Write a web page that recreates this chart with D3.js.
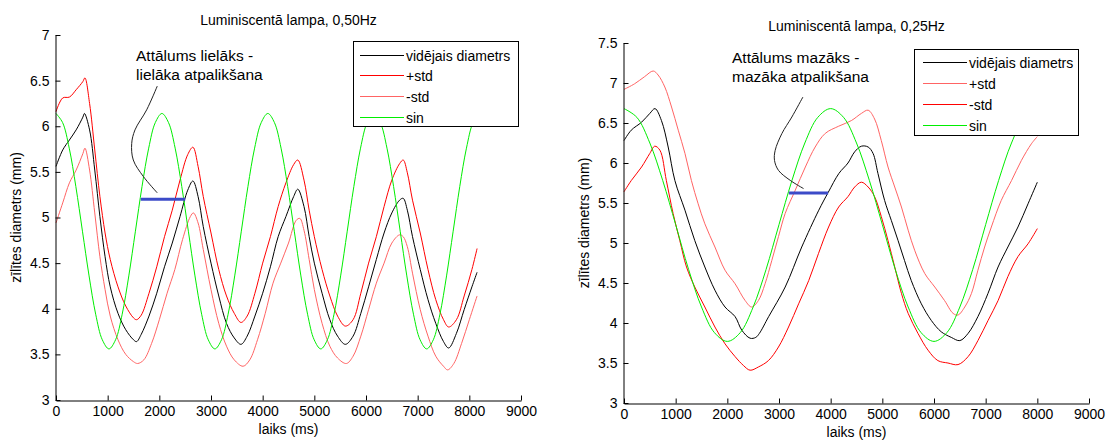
<!DOCTYPE html>
<html><head><meta charset="utf-8">
<script src="https://cdn.jsdelivr.net/npm/d3@7"></script>
<style>
body{margin:0;background:#fff}
svg{display:block}
text{font-family:"Liberation Sans",Arial,Helvetica,sans-serif;fill:#000}
</style>
</head><body>
<svg id="c" width="1106" height="441"></svg>
<script>
// ---------- shared ticks ----------
const xTicks = [0,1000,2000,3000,4000,5000,6000,7000,8000,9000];
const leftYTicks = [3,3.5,4,4.5,5,5.5,6,6.5,7];
const rightYTicks = [3,3.5,4,4.5,5,5.5,6,6.5,7,7.5];
const legendLabels = ["vidējais diametrs","+std","-std","sin"];

// ---------- left chart (0,50Hz) ----------
const leftMean = [[0,5.56],[130,5.74],[260,5.85],[390,5.96],[520,6.10],[550,6.14],[650,5.96],[750,5.52],[850,5.01],[950,4.57],[1050,4.24],[1200,3.95],[1350,3.77],[1500,3.66],[1560,3.64],[1650,3.72],[1800,3.92],[1950,4.17],[2100,4.46],[2250,4.72],[2400,5.01],[2550,5.30],[2650,5.40],[2750,5.23],[2850,4.90],[3000,4.50],[3150,4.14],[3300,3.84],[3450,3.68],[3580,3.61],[3700,3.70],[3850,3.92],[4000,4.17],[4150,4.46],[4300,4.79],[4450,5.01],[4600,5.23],[4680,5.31],[4800,5.12],[4900,4.79],[5000,4.50],[5150,4.17],[5300,3.88],[5450,3.70],[5600,3.61],[5750,3.70],[5900,3.95],[6050,4.24],[6200,4.54],[6350,4.83],[6500,5.05],[6650,5.19],[6720,5.21],[6800,5.08],[6900,4.79],[7050,4.43],[7200,4.10],[7350,3.84],[7500,3.64],[7600,3.57],[7750,3.73],[7900,3.99],[8050,4.24],[8150,4.40]];
const leftPlus = [[0,6.16],[130,6.31],[260,6.32],[390,6.40],[520,6.49],[560,6.53],[650,6.25],[750,5.74],[850,5.23],[950,4.83],[1050,4.54],[1200,4.24],[1350,4.03],[1500,3.90],[1560,3.88],[1650,3.93],[1800,4.17],[1950,4.46],[2100,4.79],[2250,5.08],[2400,5.41],[2550,5.69],[2650,5.77],[2750,5.56],[2850,5.23],[3000,4.83],[3150,4.43],[3300,4.14],[3450,3.95],[3580,3.85],[3700,3.92],[3850,4.17],[4000,4.50],[4150,4.79],[4300,5.12],[4450,5.38],[4600,5.58],[4680,5.63],[4800,5.41],[4900,5.08],[5000,4.79],[5150,4.43],[5300,4.14],[5450,3.92],[5600,3.81],[5750,3.88],[5900,4.17],[6050,4.50],[6200,4.79],[6350,5.12],[6500,5.41],[6650,5.59],[6720,5.63],[6800,5.49],[6900,5.19],[7050,4.83],[7200,4.43],[7350,4.10],[7500,3.88],[7600,3.80],[7750,3.88],[7900,4.14],[8050,4.43],[8150,4.66]];
const leftMinus = [[0,4.94],[130,5.16],[260,5.38],[390,5.52],[520,5.70],[560,5.76],[650,5.52],[750,5.05],[850,4.57],[950,4.21],[1050,3.92],[1200,3.66],[1350,3.50],[1500,3.42],[1580,3.40],[1700,3.44],[1850,3.62],[2000,3.88],[2150,4.17],[2300,4.43],[2450,4.76],[2600,5.01],[2660,5.05],[2750,4.94],[2850,4.65],[3000,4.21],[3150,3.84],[3300,3.59],[3450,3.44],[3620,3.37],[3750,3.44],[3900,3.66],[4050,3.95],[4200,4.28],[4350,4.50],[4500,4.72],[4650,4.97],[4720,4.99],[4800,4.86],[4900,4.54],[5000,4.21],[5150,3.84],[5300,3.59],[5450,3.46],[5620,3.40],[5750,3.48],[5900,3.70],[6050,3.99],[6200,4.28],[6350,4.50],[6500,4.72],[6650,4.81],[6720,4.79],[6800,4.68],[6900,4.39],[7050,3.99],[7200,3.70],[7350,3.48],[7500,3.37],[7580,3.33],[7700,3.40],[7850,3.62],[8000,3.88],[8150,4.14]];
const leftSinT = [0,128,256,384,512,640,768,896,1025,1153,1281,1409,1537,1665,1794,1922,2050,2178,2306,2434,2562,2690,2819,2947,3075,3203,3331,3459,3587,3715,3844,3972,4100,4228,4356,4484,4612,4740,4869,4997,5125,5253,5381,5509,5637,5765,5894,6022,6150,6278,6406,6534,6662,6790,6919,7047,7175,7303,7431,7559,7687,7815,7944,8072,8200];
const leftSinV = [6.14,6.04,5.76,5.34,4.85,4.36,3.94,3.66,3.56,3.66,3.94,4.36,4.85,5.34,5.76,6.04,6.14,6.04,5.76,5.34,4.85,4.36,3.94,3.66,3.56,3.66,3.94,4.36,4.85,5.34,5.76,6.04,6.14,6.04,5.76,5.34,4.85,4.36,3.94,3.66,3.56,3.66,3.94,4.36,4.85,5.34,5.76,6.04,6.14,6.04,5.76,5.34,4.85,4.36,3.94,3.66,3.56,3.66,3.94,4.36,4.85,5.34,5.76,6.04,6.14];
const leftGap = [[1640,5.2],[2500,5.2]];
const leftPointer = [[1960,6.44],[1755,6.18],[1529,5.96],[1465,5.81],[1496,5.63],[1690,5.45],[1960,5.27]];

// ---------- right chart (0,25Hz) ----------
const rightMean = [[0,6.28],[140,6.41],[340,6.51],[500,6.62],[600,6.68],[725,6.53],[855,6.20],[985,5.78],[1180,5.41],[1370,5.03],[1565,4.70],[1760,4.41],[1955,4.20],[2150,4.08],[2280,3.91],[2440,3.81],[2550,3.82],[2620,3.87],[2800,4.08],[3120,4.45],[3440,4.95],[3770,5.41],[3950,5.63],[4160,5.87],[4335,6.00],[4465,6.14],[4595,6.21],[4725,6.20],[4820,6.12],[4915,5.87],[5045,5.53],[5175,5.28],[5305,5.03],[5430,4.78],[5560,4.53],[5755,4.24],[5950,4.03],[6140,3.89],[6335,3.82],[6500,3.78],[6660,3.87],[6850,4.08],[7045,4.37],[7240,4.70],[7430,4.95],[7625,5.20],[7820,5.49],[8000,5.76]];
const rightPlus = [[0,6.92],[205,6.99],[400,7.08],[565,7.15],[660,7.10],[790,6.95],[920,6.70],[1050,6.41],[1180,6.12],[1305,5.78],[1435,5.49],[1565,5.24],[1760,4.95],[1955,4.66],[2150,4.49],[2345,4.28],[2470,4.20],[2600,4.28],[2730,4.49],[2860,4.78],[2990,5.08],[3120,5.37],[3315,5.66],[3510,5.95],[3700,6.20],[3895,6.37],[4155,6.46],[4400,6.53],[4595,6.62],[4725,6.66],[4850,6.55],[4980,6.28],[5110,5.95],[5240,5.70],[5370,5.45],[5500,5.16],[5625,4.91],[5820,4.62],[6015,4.45],[6205,4.28],[6370,4.12],[6465,4.10],[6595,4.20],[6725,4.37],[6850,4.66],[6980,4.95],[7110,5.20],[7300,5.53],[7500,5.78],[7690,6.03],[7885,6.24],[8000,6.33]];
const rightMinus = [[0,5.64],[140,5.78],[340,5.95],[500,6.12],[595,6.21],[695,6.16],[820,5.78],[950,5.37],[1080,5.03],[1210,4.70],[1370,4.45],[1565,4.20],[1760,3.95],[1955,3.74],[2150,3.58],[2310,3.47],[2440,3.41],[2600,3.45],[2795,3.53],[2990,3.70],[3185,3.95],[3380,4.24],[3575,4.53],[3765,4.87],[3960,5.20],[4155,5.45],[4335,5.58],[4465,5.70],[4595,5.76],[4725,5.70],[4850,5.58],[4980,5.33],[5110,5.03],[5240,4.70],[5370,4.37],[5500,4.12],[5690,3.87],[5885,3.66],[6075,3.53],[6270,3.50],[6465,3.48],[6660,3.58],[6850,3.78],[7045,4.03],[7240,4.28],[7430,4.58],[7625,4.83],[7820,4.99],[8000,5.18]];
const rightSinT = [0,250,500,750,1000,1250,1500,1750,2000,2250,2500,2750,3000,3250,3500,3750,4000,4250,4500,4750,5000,5250,5500,5750,6000,6250,6500,6750,7000,7250,7500,7750,8000];
const rightSinV = [6.68,6.57,6.25,5.78,5.23,4.67,4.20,3.88,3.77,3.88,4.20,4.67,5.23,5.78,6.25,6.57,6.68,6.57,6.25,5.78,5.23,4.67,4.20,3.88,3.77,3.88,4.20,4.67,5.23,5.78,6.25,6.57,6.68];
const rightGap = [[3190,5.625],[3950,5.625]];
const rightPointer = [[3463,6.825],[3249,6.575],[3055,6.367],[2926,6.158],[2913,6.033],[2990,5.908],[3217,5.783],[3476,5.68]];

const RED = "#ff0000", LRED = "#ff6464", GREEN = "#00ee00", BLACK = "#000000", BLUE = "#3c4bc8";
const FONT = 14;
const svg = d3.select("#c");

function zip(t, v){ return t.map((d,i)=>[d, v[i]]); }

function panel(p){
  const x = d3.scaleLinear().domain([0,9000]).range([p.left, p.right]);
  const y = d3.scaleLinear().domain(p.yDom).range([p.bottom, p.top]);
  const g = svg.append("g");
  const line = d3.line().x(d=>x(d[0])).y(d=>y(d[1])).curve(d3.curveCatmullRom.alpha(0.5));

  p.series.forEach(s=>{
    g.append("path").attr("d", line(s.data)).attr("fill","none")
      .attr("stroke", s.color).attr("stroke-width", 1);
  });

  // annotation pointer + gap bar
  g.append("path").attr("d", line(p.pointer))
    .attr("fill","none").attr("stroke","#222").attr("stroke-width",1);
  g.append("path").attr("d", d3.line().x(d=>x(d[0])).y(d=>y(d[1]))(p.gap))
    .attr("fill","none").attr("stroke",BLUE).attr("stroke-width",3);
  const at = g.append("text").attr("x", p.noteX).attr("y", p.noteY).attr("font-size", 15.5).attr("fill","#111");
  at.append("tspan").attr("x", p.noteX).attr("dy", 0).text(p.note[0]);
  at.append("tspan").attr("x", p.noteX).attr("dy", 18.5).text(p.note[1]);

  // axes
  const xa = d3.axisBottom(x).tickValues(xTicks).tickSizeInner(-5).tickSizeOuter(0).tickPadding(6).tickFormat(d3.format("d"));
  const gx = g.append("g").attr("transform", `translate(0,${p.bottom+0.5})`).call(xa);
  const ya = d3.axisLeft(y).tickValues(p.yTicks).tickSizeInner(-5).tickSizeOuter(0).tickPadding(6).tickFormat(d3.format("~g"));
  const gy = g.append("g").attr("transform", `translate(${p.left-0.5},0)`).call(ya);
  [gx, gy].forEach(a=>{
    a.selectAll("text").attr("font-size", FONT).attr("font-family", null).attr("fill","#000");
    a.selectAll("line,path").attr("stroke","#000");
  });

  // titles & labels
  const cx = (p.left + p.right)/2;
  g.append("text").attr("x", cx).attr("y", p.titleY).attr("text-anchor","middle").attr("font-size", FONT).text(p.title);
  g.append("text").attr("x", cx).attr("y", p.xlabY).attr("text-anchor","middle").attr("font-size", FONT).text("laiks (ms)");
  g.append("text").attr("transform", `translate(${p.ylabX},${(p.top+p.bottom)/2}) rotate(-90)`)
    .attr("text-anchor","middle").attr("font-size", FONT).text("zīlītes diametrs (mm)");

  // legend (opaque box drawn above the curves)
  const L = p.legend;
  const lg = svg.append("g");
  lg.append("rect").attr("x", L.x+0.5).attr("y", L.y+0.5).attr("width", L.w).attr("height", L.h)
    .attr("fill","#ffffff").attr("stroke","#000").attr("stroke-width",1);
  p.series.forEach((s,i)=>{
    const ry = Math.round(L.y + L.r0 + i*L.dr) + 0.5;
    lg.append("path").attr("d", `M${L.x + L.l0},${ry}H${L.x + L.l1}`)
      .attr("fill","none").attr("stroke", s.color).attr("stroke-width", 1.2);
    lg.append("text").attr("x", L.x + L.l1 + 2).attr("y", ry + 5).attr("font-size", FONT).text(legendLabels[i]);
  });
}

panel({
  left:56, right:521, top:35, bottom:400, yDom:[3,7], yTicks:leftYTicks,
  title:"Luminiscentā lampa, 0,50Hz", titleY:25, xlabY:434, ylabX:21,
  series:[{data:leftMean,color:BLACK},{data:leftPlus,color:RED},{data:leftMinus,color:LRED},{data:zip(leftSinT,leftSinV),color:GREEN}],
  pointer:leftPointer, gap:leftGap, note:["Attālums lielāks -","lielāka atpalikšana"], noteX:136, noteY:61,
  legend:{x:353, y:41, w:165, h:85, r0:13.5, dr:20.7, l0:7, l1:51}
});
panel({
  left:624, right:1089, top:43, bottom:403, yDom:[3,7.5], yTicks:rightYTicks,
  title:"Luminiscentā lampa, 0,25Hz", titleY:31, xlabY:437, ylabX:589,
  series:[{data:rightMean,color:BLACK},{data:rightPlus,color:LRED},{data:rightMinus,color:RED},{data:zip(rightSinT,rightSinV),color:GREEN}],
  pointer:rightPointer, gap:rightGap, note:["Attālums mazāks -","mazāka atpalikšana"], noteX:732, noteY:63,
  legend:{x:914, y:49, w:164, h:86, r0:13, dr:21, l0:9, l1:53}
});
</script>
</body></html>
